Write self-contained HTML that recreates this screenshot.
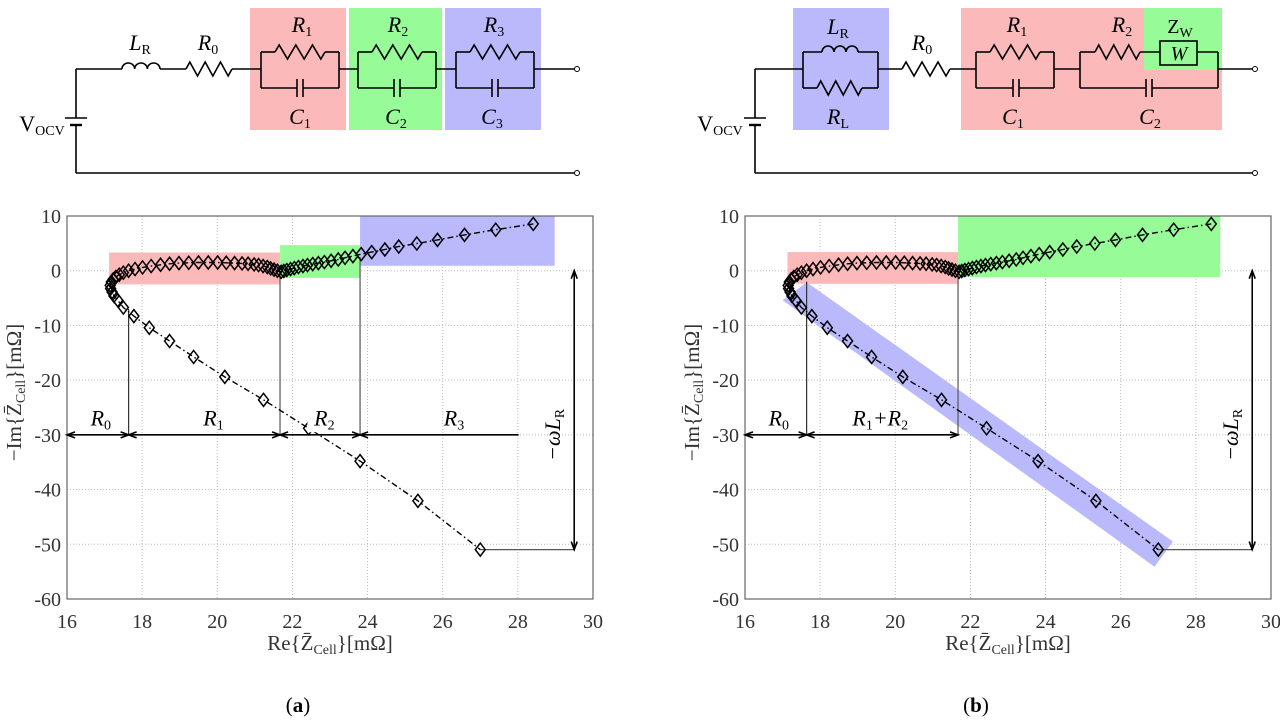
<!DOCTYPE html>
<html><head><meta charset="utf-8"><style>
html,body{margin:0;padding:0;background:#fff;}
svg{display:block;font-family:"Liberation Serif",serif;}
</style></head><body>
<svg id="fig" width="1280" height="721" viewBox="0 0 1280 721" xmlns="http://www.w3.org/2000/svg">
<g id="circA"></g>
<g id="circB"></g>
<g id="plotA"></g>
<g id="plotB"></g>
<text x="298" y="712" font-size="21" text-anchor="middle">(<tspan font-weight="bold">a</tspan>)</text>
<text x="976" y="712" font-size="21" text-anchor="middle">(<tspan font-weight="bold">b</tspan>)</text>
</svg>
<script>
// ---- chart data (Re, -Im) in mOhm ----
const reVals=[28.41,27.41,26.58,25.86,25.31,24.83,24.46,24.11,23.83,23.61,23.4,23.22,23.03,22.85,22.69,22.54,22.4,22.28,22.16,22.05,21.95,21.85,21.77,21.7,21.6,21.51,21.42,21.33,21.22,21.1,20.98,20.82,20.66,20.46,20.24,20.01,19.76,19.5,19.24,18.98,18.73,18.49,18.24,18.01,17.81,17.64,17.5,17.39,17.3,17.23,17.18,17.15,17.16,17.2,17.25,17.35,17.5,17.78,18.19,18.73,19.37,20.2,21.23,22.43,23.8,25.34,27.0];
const imVals=[8.55,7.5,6.55,5.64,4.97,4.42,3.88,3.4,3.03,2.67,2.36,2.06,1.82,1.58,1.39,1.21,1.03,0.85,0.67,0.48,0.3,0.12,-0.06,-0.2,0,0.2,0.42,0.67,0.85,1.03,1.15,1.27,1.33,1.39,1.45,1.5,1.5,1.5,1.45,1.39,1.27,1.09,0.85,0.6,0.3,0,-0.36,-0.73,-1.15,-1.58,-2.06,-2.67,-3.27,-3.88,-4.6,-5.4,-6.73,-8.3,-10.42,-12.85,-15.76,-19.4,-23.6,-28.8,-34.8,-42.06,-50.97];
const xTicks=[16,18,20,22,24,26,28,30];
const yTicks=[10,0,-10,-20,-30,-40,-50,-60];
const R0=17.64, R1end=21.67, R2end=23.8, lowEnd=27.0, lowIm=-50.97;

const NS="http://www.w3.org/2000/svg";
function el(parent,tag,attrs){const e=document.createElementNS(NS,tag);for(const k in attrs)e.setAttribute(k,attrs[k]);parent.appendChild(e);return e;}

function label(g,x,y,main,sub,opts){
  opts=opts||{};
  const t=el(g,'text',{x:x,y:y,'font-size':opts.size||22,'text-anchor':'middle','font-style':opts.upright?'normal':'italic',fill:'#000'});
  
  
  t.appendChild(document.createTextNode(main));
  if(sub){const s=el(t,'tspan',{'font-size':14,'font-style':'normal',dy:4});s.textContent=sub;}
  if(opts.rot)t.setAttribute('transform','rotate(-90 '+x+' '+y+')');
  return t;
}

function wire(g,pts){return el(g,'polyline',{points:pts.map(p=>p.join(',')).join(' '),fill:'none',stroke:'#000','stroke-width':1.6});}
function resistor(g,x1,x2,y){let d='M'+x1+','+y;const n=6,w=(x2-x1)/n;for(let i=0;i<n;i++){d+=' L'+(x1+w*(i+0.5))+','+(y+(i%2?7:-7));}d+=' L'+x2+','+y;const p=el(g,'path',{d:d,fill:'none',stroke:'#000','stroke-width':1.6});}
function inductor(g,x1,x2,y){const w=(x2-x1)/3;let d='M'+x1+','+y;for(let i=0;i<3;i++){d+=' a'+(w/2)+','+6+' 0 1 1 '+w+',0';}const p=el(g,'path',{d:d,fill:'none',stroke:'#000','stroke-width':1.6});}
function cap(g,x,y){el(g,'line',{x1:x-3,y1:y-9,x2:x-3,y2:y+9,stroke:'#000','stroke-width':1.6});el(g,'line',{x1:x+3,y1:y-9,x2:x+3,y2:y+9,stroke:'#000','stroke-width':1.6});}
function rc(g,xa,xb,capx){
  wire(g,[[xa,52],[xa,88]]);wire(g,[[xb,52],[xb,88]]);
  const m=(xa+xb)/2;wire(g,[[xa,52],[m-25,52]]);resistor(g,m-25,m+25,52);wire(g,[[m+25,52],[xb,52]]);
  const cx=capx||m;wire(g,[[xa,88],[cx-3,88]]);cap(g,cx,88);wire(g,[[cx+3,88],[xb,88]]);
}
function battery(g,x){wire(g,[[x,69],[x,118]]);el(g,'line',{x1:x-11,y1:118,x2:x+11,y2:118,stroke:'#000','stroke-width':1.6});el(g,'line',{x1:x-6,y1:125,x2:x+6,y2:125,stroke:'#000','stroke-width':2.4});wire(g,[[x,125],[x,173]]);}
function terminal(g,x,y){el(g,'circle',{cx:x,cy:y,r:2.5,fill:'#fff',stroke:'#000','stroke-width':1});}

(function(){
  const g=document.getElementById('circA');
  let b;
  b=el(g,'rect',{x:250,y:8,width:96,height:122,fill:'#fcb9b9'});
  b=el(g,'rect',{x:349,y:8,width:93,height:122,fill:'#97fc97'});
  b=el(g,'rect',{x:445,y:8,width:96,height:122,fill:'#b9b9fc'});
  battery(g,76);
  wire(g,[[76,69],[122,69]]);inductor(g,122,160,69);wire(g,[[160,69],[186,69]]);resistor(g,186,232,69);wire(g,[[232,69],[261,69]]);
  rc(g,261,339);wire(g,[[339,69],[358,69]]);rc(g,358,436);wire(g,[[436,69],[456,69]]);rc(g,456,534);wire(g,[[534,69],[575,69]]);
  wire(g,[[76,173],[575,173]]);terminal(g,577,69);terminal(g,577,173);
  label(g,140,50,'L','R');label(g,208,50,'R','0');
  label(g,302,32,'R','1');label(g,398,32,'R','2');label(g,494,32,'R','3');
  label(g,300,124,'C','1');label(g,396,124,'C','2');label(g,492,124,'C','3');
  label(g,42,131,'V','OCV',{upright:true,name:'vocv'});
})();

(function(){
  const g=document.getElementById('circB');
  let b;
  b=el(g,'rect',{x:793,y:8,width:96,height:122,fill:'#b9b9fc'});
  b=el(g,'rect',{x:961,y:8,width:261,height:122,fill:'#fcb9b9'});
  b=el(g,'rect',{x:1144,y:8,width:78,height:62,fill:'#97fc97'});
  battery(g,755);
  wire(g,[[755,69],[803,69]]);
  wire(g,[[803,52],[803,88]]);wire(g,[[878,52],[878,88]]);
  wire(g,[[803,52],[822,52]]);inductor(g,822,858,52);wire(g,[[858,52],[878,52]]);
  wire(g,[[803,88],[817,88]]);resistor(g,817,862,88);wire(g,[[862,88],[878,88]]);
  wire(g,[[878,69],[902,69]]);resistor(g,902,950,69);wire(g,[[950,69],[976,69]]);
  rc(g,976,1054,1016);wire(g,[[1054,69],[1080,69]]);
  wire(g,[[1080,52],[1080,88]]);wire(g,[[1218,52],[1218,88]]);
  wire(g,[[1080,52],[1095,52]]);resistor(g,1095,1140,52);wire(g,[[1140,52],[1160,52]]);
  b=el(g,'rect',{x:1160,y:41,width:37,height:24,fill:'none',stroke:'#000','stroke-width':1.6});
  wire(g,[[1197,52],[1218,52]]);
  wire(g,[[1080,88],[1146,88]]);cap(g,1149,88);wire(g,[[1152,88],[1218,88]]);
  wire(g,[[1218,69],[1252,69]]);wire(g,[[755,173],[1252,173]]);terminal(g,1255,69);terminal(g,1255,173);
  label(g,838,34,'L','R');label(g,838,124,'R','L');label(g,922,50,'R','0');
  label(g,1017,32,'R','1');label(g,1122,32,'R','2');label(g,1180,33,'Z','W',{upright:true,name:'zw',size:20});
  label(g,1179,60,'W','',{size:20,name:'w'});
  label(g,1013,124,'C','1');label(g,1150,124,'C','2');
  label(g,720,131,'V','OCV',{upright:true,name:'vocv'});
})();

function plot(gid,ox,variant){
  const g=document.getElementById(gid);
  const X0=ox,X1=ox+526,Y0=216,Y1=599;
  const sx=v=>X0+(v-16)*(X1-X0)/14, sy=v=>Y0+(10-v)*(Y1-Y0)/70;
  function rect(x1,x2,y1,y2,fill,name){const r=el(g,'rect',{x:sx(x1),y:sy(y1),width:sx(x2)-sx(x1),height:sy(y2)-sy(y1),fill:fill});}
  xTicks.forEach(t=>{const l=el(g,'line',{x1:sx(t),y1:Y0,x2:sx(t),y2:Y1,stroke:'#bbb','stroke-width':1,'stroke-dasharray':'1,2'});
    const tx=el(g,'text',{x:sx(t),y:628,'font-size':20,'text-anchor':'middle',fill:'#333'});tx.textContent=t;});
  yTicks.forEach(t=>{const l=el(g,'line',{x1:X0,y1:sy(t),x2:X1,y2:sy(t),stroke:'#bbb','stroke-width':1,'stroke-dasharray':'1,2'});
    const tx=el(g,'text',{x:X0-6,y:sy(t)+7,'font-size':20,'text-anchor':'end',fill:'#333'});tx.textContent=t;});
  if(variant==='a'){
    rect(17.12,R1end,3.33,-2.5,'#fcb9b9','r1-region');
    rect(R1end,R2end,4.67,-1.3,'#97fc97','r2-region');
    rect(R2end,28.98,10,0.9,'#b9b9fc','r3-region');
  } else {
    rect(17.13,R1end,3.4,-2.4,'#fcb9b9','r1-region');
    rect(R1end,28.65,10,-1.15,'#97fc97','warburg-region');
    const band=[[17.0,-5.4],[17.64,-2.1],[27.39,-49.5],[26.9,-54.1]];
    const p=el(g,'polygon',{points:band.map(q=>sx(q[0])+','+sy(q[1])).join(' '),fill:'#b9b9fc'});
    
  }
  const bx=el(g,'rect',{x:X0,y:Y0,width:X1-X0,height:Y1-Y0,fill:'none',stroke:'#666','stroke-width':1.2});
  
  const gl=(x1,y1,x2,y2,c,w)=>{const l=el(g,'line',{x1:sx(x1),y1:sy(y1),x2:sx(x2),y2:sy(y2),stroke:c||'#555','stroke-width':w||1.2});return l;};
  gl(R0,-30,R0,variant==='a'?-7:-2,'#333');
  gl(R1end,-30,R1end,0,'#555');
  if(variant==='a')gl(R2end,-30,R2end,2.5,'#555');
  gl(lowEnd,lowIm,29.5,lowIm,'#555');
  let d='';reVals.forEach((r,i)=>{d+=(i?'L':'M')+sx(r).toFixed(1)+','+sy(imVals[i]).toFixed(1);});
  const ln=el(g,'path',{d:d,fill:'none',stroke:'#000','stroke-width':1.4,'stroke-dasharray':'6,3,1.5,3'});
  
  reVals.forEach((r,i)=>{const x=sx(r),y=sy(imVals[i]);
    const m=el(g,'polygon',{points:[x,y-6.5,x+5,y,x,y+6.5,x-5,y].reduce((a,v,k)=>a+(k%2?','+v+' ':v),''),fill:'none',stroke:'#000','stroke-width':1.5});
    });
  const arrow=(x1,x2,y)=>{const a=sx(x1),b=sx(x2),yy=sy(y);
    const p=el(g,'path',{d:'M'+a+','+yy+' L'+b+','+yy+' M'+(a+8)+','+(yy-3)+' L'+a+','+yy+' L'+(a+8)+','+(yy+3)+' M'+(b-8)+','+(yy-3)+' L'+b+','+yy+' L'+(b-8)+','+(yy+3),fill:'none',stroke:'#000','stroke-width':1.6});
    };
  arrow(16,R0,-30);
  if(variant==='a'){
    arrow(R0,R1end,-30);arrow(R1end,R2end,-30);
    const a=sx(R2end),b=sx(28.02),yy=sy(-30);
    const p=el(g,'path',{d:'M'+a+','+yy+' L'+b+','+yy+' M'+(a+8)+','+(yy-3)+' L'+a+','+yy+' L'+(a+8)+','+(yy+3),fill:'none',stroke:'#000','stroke-width':1.6});
    
    const bg=el(g,'rect',{x:sx(22.4),y:sy(-25.5),width:32,height:22,fill:'#fff'});
    label(g,sx(16.9),sy(-28.3),'R','0',{name:'r0'});label(g,sx(19.9),sy(-28.3),'R','1',{name:'r1'});
    label(g,sx(22.85),sy(-28.3),'R','2',{name:'r2'});label(g,sx(26.3),sy(-28.3),'R','3',{name:'r3'});
  } else {
    arrow(R0,R1end,-30);
    label(g,sx(16.9),sy(-28.3),'R','0',{name:'r0'});
    const t=label(g,sx(19.6),sy(-28.3),'R','1',{name:'r1-plus-r2'});
    const s=el(t,'tspan',{dy:-4});s.textContent='+R';
    const s2=el(t,'tspan',{'font-size':14,'font-style':'normal',dy:4});s2.textContent='2';
  }
  const vx=sx(29.5),ya=sy(0),yb=sy(lowIm);
  const va=el(g,'path',{d:'M'+vx+','+ya+' L'+vx+','+yb+' M'+(vx-3)+','+(ya+8)+' L'+vx+','+ya+' L'+(vx+3)+','+(ya+8)+' M'+(vx-3)+','+(yb-8)+' L'+vx+','+yb+' L'+(vx+3)+','+(yb-8),fill:'none',stroke:'#000','stroke-width':1.6});
  
  label(g,vx-14,sy(-30),'\u2212\u03C9L','R',{name:'omega-lr',rot:true});
  const xt=el(g,'text',{x:(X0+X1)/2,y:650,'font-size':21,'text-anchor':'middle',fill:'#333'});
  
  xt.innerHTML='Re{Z\u0304<tspan font-size="14" dy="4">Cell</tspan><tspan dy="-4">}[m\u03A9]</tspan>';
  const yx=X0-46,yy=(Y0+Y1)/2-15;
  const yt=el(g,'text',{x:yx,y:yy,'font-size':21,'text-anchor':'middle',fill:'#333',transform:'rotate(-90 '+yx+' '+yy+')'});
  
  yt.innerHTML='\u2212Im{Z\u0304<tspan font-size="14" dy="4">Cell</tspan><tspan dy="-4">}[m\u03A9]</tspan>';
}
plot('plotA',67,'a');
plot('plotB',745,'b');
</script>
</body></html>
